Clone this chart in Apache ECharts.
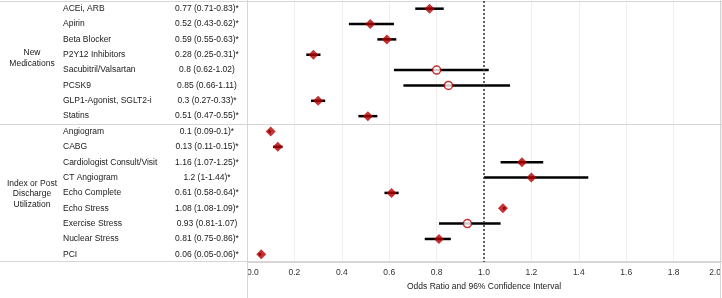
<!DOCTYPE html>
<html>
<head>
<meta charset="utf-8">
<script src="https://cdn.jsdelivr.net/npm/echarts@6/dist/echarts.min.js"></script>
<style>
  html, body { margin: 0; padding: 0; background: #fff; }
  #chart { width: 722px; height: 298px; }
</style>
</head>
<body>
<div id="chart"></div>
<script>
  // rows of the table, top to bottom
  const names = [
    'ACEi, ARB', 'Apirin', 'Beta Blocker', 'P2Y12 Inhibitors', 'Sacubitril/Valsartan',
    'PCSK9', 'GLP1-Agonist, SGLT2-i', 'Statins',
    'Angiogram', 'CABG', 'Cardiologist Consult/Visit', 'CT Angiogram', 'Echo Complete',
    'Echo Stress', 'Exercise Stress', 'Nuclear Stress', 'PCI'
  ];
  const odds  = [0.77, 0.52, 0.59, 0.28, 0.8, 0.85, 0.3, 0.51, 0.1, 0.13, 1.16, 1.2, 0.61, 1.08, 0.93, 0.81, 0.06];
  const lower = [0.71, 0.43, 0.55, 0.25, 0.62, 0.66, 0.27, 0.47, 0.09, 0.11, 1.07, 1, 0.58, 1.08, 0.81, 0.75, 0.05];
  const upper = [0.83, 0.62, 0.63, 0.31, 1.02, 1.11, 0.33, 0.55, 0.1, 0.15, 1.25, 1.44, 0.64, 1.09, 1.07, 0.86, 0.06];
  const significant = [1, 1, 1, 1, 0, 0, 1, 1, 1, 1, 1, 1, 1, 1, 0, 1, 1];

  const groupNames = ['New\nMedications', 'Index or Post\nDischarge\nUtilization'];
  const groupSizes = [8, 9];
  const xTicks = [0, 0.2, 0.4, 0.6, 0.8, 1.0, 1.2, 1.4, 1.6, 1.8, 2.0];

  const RED = '#b50000';
  const LINE = '#d6d6d6';
  const FONT = 'Liberation Sans';
  const groupNudge = [7, 2]; // blank line height that pushes each group label down a bit

  // "0.77 (0.71-0.83)*"
  const valueLabels = odds.map((o, i) => o + ' (' + lower[i] + '-' + upper[i] + ')' + (significant[i] ? '*' : ''));

  const chart = echarts.init(document.getElementById('chart'));

  const labelAxis = (data, margin, align) => ({
    type: 'category',
    position: 'left',
    data: data,
    inverse: true,
    axisLine: { show: false },
    axisTick: { show: false },
    splitLine: { show: false },
    axisLabel: {
      interval: 0, margin: margin, align: align,
      fontFamily: FONT, fontSize: 8.5, color: '#1a1a1a'
    }
  });

  // one axis per group, label in the middle row of its group
  const groupAxes = [];
  let start = 0;
  groupSizes.forEach((n, g) => {
    const labels = names.map(() => '');
    labels[start + Math.floor((n - 1) / 2)] = groupNames[g];
    const ax = labelAxis(labels, 215, 'center');
    ax.axisLabel.formatter = v => v
      ? '{pad| }\n' + v.split('\n').map(s => '{t|' + s + '}').join('\n')
      : '';
    ax.axisLabel.rich = {
      pad: { fontSize: 1, lineHeight: groupNudge[g] },
      t: { fontFamily: FONT, fontSize: 8.5, color: '#1a1a1a', lineHeight: 10.5 }
    };
    groupAxes.push(ax);
    start += n;
  });

  const rows = names.map((_, i) => i);

  let option = {
    animation: false,
    grid: { left: 247, right: 1, top: 1, bottom: 36, outerBoundsMode: 'none' },
    xAxis: {
      type: 'value',
      min: xTicks[0],
      max: xTicks[xTicks.length - 1],
      interval: 0.2,
      axisLine: { show: true, lineStyle: { color: LINE } },
      axisTick: { show: false },
      splitLine: { show: true, lineStyle: { color: '#efefef' } },
      axisLabel: {
        fontFamily: FONT, fontSize: 8.5, color: '#333', margin: 6,
        alignMinLabel: 'left', alignMaxLabel: 'right',
        formatter: v => v.toFixed(1)
      },
      name: 'Odds Ratio and 96% Confidence Interval',
      nameLocation: 'middle',
      nameGap: 20,
      nameTextStyle: { fontFamily: FONT, fontSize: 8.5, color: '#1a1a1a' }
    },
    yAxis: [
      labelAxis(names, 184, 'left'),
      labelAxis(valueLabels, 40, 'center')
    ].concat(groupAxes),
    series: [
      {
        type: 'custom',
        z: 2,
        xAxisIndex: 0,
        yAxisIndex: 0,
        data: rows.map(i => [i, lower[i], upper[i]]),
        encode: { y: 0, x: [1, 2] },
        renderItem: function (params, api) {
          const a = api.coord([api.value(1), api.value(0)]);
          const b = api.coord([api.value(2), api.value(0)]);
          return {
            type: 'line',
            shape: { x1: a[0], y1: a[1], x2: b[0], y2: b[1] },
            style: { stroke: '#000', lineWidth: 2.5 }
          };
        }
      },
      {
        type: 'scatter',
        z: 3,
        xAxisIndex: 0,
        yAxisIndex: 0,
        data: rows.map(i => ({
          value: [odds[i], i],
          symbol: significant[i] ? 'diamond' : 'circle',
          symbolSize: significant[i] ? 10 : 8,
          itemStyle: significant[i]
            ? { color: RED }
            : { color: '#fff', borderColor: RED, borderWidth: 1.5 }
        })),
        markLine: {
          silent: true,
          symbol: 'none',
          label: { show: false },
          lineStyle: { type: [2, 2], color: '#333', width: 1.5 },
          data: [{ xAxis: 1 }]
        }
      }
    ]
  };

  chart.setOption(option);

  // table rules, placed from the chart's own scales
  const x0 = chart.convertToPixel({ xAxisIndex: 0 }, xTicks[0]);
  const x1 = chart.convertToPixel({ xAxisIndex: 0 }, xTicks[xTicks.length - 1]);
  const r0 = chart.convertToPixel({ yAxisIndex: 0 }, 0);
  const r1 = chart.convertToPixel({ yAxisIndex: 0 }, 1);
  const half = (r1 - r0) / 2;
  const topY = Math.round(r0 - half) + 0.5;
  const sepY = Math.round(chart.convertToPixel({ yAxisIndex: 0 }, groupSizes[0] - 1) + half) + 0.5;
  const botY = Math.round(chart.convertToPixel({ yAxisIndex: 0 }, names.length - 1) + half) - 0.5;
  const W = chart.getWidth(), H = chart.getHeight();

  const rule = (xa, ya, xb, yb) => ({
    type: 'line', silent: true, z: 1,
    shape: { x1: xa, y1: ya, x2: xb, y2: yb },
    style: { stroke: LINE, lineWidth: 1 }
  });

  chart.setOption({
    graphic: [
      rule(0, topY, W, topY),
      rule(0, sepY, W, sepY),
      rule(0, botY, W, botY),
      rule(Math.round(x0) + 0.5, 0, Math.round(x0) + 0.5, H),
      rule(Math.round(x1) - 0.5, 0, Math.round(x1) - 0.5, H)
    ]
  });
</script>
</body>
</html>
